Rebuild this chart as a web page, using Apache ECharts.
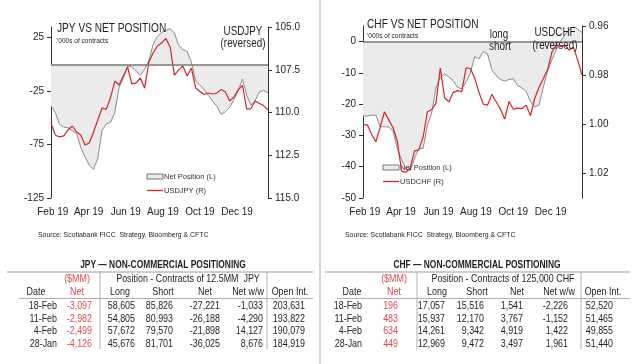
<!DOCTYPE html>
<html><head><meta charset="utf-8">
<script src="https://cdn.jsdelivr.net/npm/echarts@6/dist/echarts.min.js"></script>
<style>html,body{margin:0;padding:0;background:#fff;}#c{width:639px;height:364px;}</style>
</head><body><div id="c"></div>
<script>
// ---------- DATA ----------
const weeks = ['2019-01-29','2019-02-05','2019-02-12','2019-02-19','2019-02-26','2019-03-05','2019-03-12','2019-03-19','2019-03-26',
 '2019-04-02','2019-04-09','2019-04-16','2019-04-23','2019-04-30','2019-05-07','2019-05-14','2019-05-21','2019-05-28',
 '2019-06-04','2019-06-11','2019-06-18','2019-06-25','2019-07-02','2019-07-09','2019-07-16','2019-07-23','2019-07-30',
 '2019-08-06','2019-08-13','2019-08-20','2019-08-27','2019-09-03','2019-09-10','2019-09-17','2019-09-24',
 '2019-10-01','2019-10-08','2019-10-15','2019-10-22','2019-10-29','2019-11-05','2019-11-12','2019-11-19','2019-11-26',
 '2019-12-03','2019-12-10','2019-12-17','2019-12-24','2019-12-31','2020-01-07','2020-01-14','2020-01-21'];
const jpyNetPos = [-38.8,-44.9,-56.1,-58.7,-59.2,-62.0,-64.5,-77.6,-86.6,-94.4,-98.1,-87.9,-61.7,-55.6,-54.2,-44.9,-21.5,-13.1,
 -1.9,-2.3,-6.5,-9.8,-4.7,3.7,18.7,26.2,29.9,31.8,33.4,29.4,17.8,14.0,12.1,1.9,-15.4,-19.6,-23.4,-29.0,-34.6,-39.3,
 -46.7,-44.4,-40.2,-32.7,-24.8,-13.6,-29.0,-38.3,-33.6,-25.7,-24.3,-26.7];
const usdJpy = [110.61,111.32,111.43,111.37,111.02,110.79,111.14,111.32,111.90,111.78,111.14,110.44,109.74,109.80,109.12,108.16,
 108.39,107.87,107.34,108.33,108.27,107.98,108.57,107.05,106.52,106.11,105.94,105.67,106.17,107.81,107.51,107.28,107.87,107.40,
 108.57,108.77,108.95,108.86,108.92,108.86,108.65,108.80,109.33,109.09,108.68,108.42,109.80,109.77,109.33,109.47,109.61,109.85];
const chfNetPos = [-23.8,-23.8,-23.5,-23.5,-27.2,-27.2,-27.3,-28.6,-34.4,-37.8,-40.8,-41.2,-37.3,-34.2,-34.1,-26.7,-22.8,-14.8,
 -11.3,-10.3,-11.3,-12.5,-14.6,-15.1,-12.9,-10.0,-4.8,-5.5,-3.2,-3.9,-9.0,-10.9,-12.1,-12.6,-12.1,-11.9,-14.0,-14.8,-15.9,
 -19.1,-20.9,-20.3,-14.5,-9.3,-5.8,-2.7,0.2,2.1,3.9,4.8,4.0,2.9];
const usdChf = [1.0002,1.0002,1.0041,1.0071,1.0012,0.9949,0.9982,1.0014,1.0069,1.0192,1.0195,1.0178,1.0108,1.0104,1.0052,0.9949,
 0.9941,0.9914,0.9771,0.9892,0.9909,0.9871,0.9863,0.9867,0.9770,0.9773,0.9812,0.9869,0.9918,0.9922,0.9878,0.9908,0.9938,
 0.9979,0.9907,0.9939,0.9934,0.9936,0.9922,0.9965,0.9894,0.9849,0.9814,0.9777,0.9706,0.9678,0.9684,0.9678,0.9698,0.9686,0.9739,0.9800];
const monthTicks = ['2019-02-01','2019-04-01','2019-06-01','2019-08-01','2019-10-01','2019-12-01'];
const monthTickLabels = ['Feb 19','Apr 19','Jun 19','Aug 19','Oct 19','Dec 19'];
const jpyLeftTicks = [-125,-75,-25,25];
const jpyRightTicks = [105,107.5,110,112.5,115];
const chfLeftTicks = [-50,-40,-30,-20,-10,0];
const chfRightTicks = [0.96,0.98,1.00,1.02];

// tables
const tblDates = ['18-Feb','11-Feb','4-Feb','28-Jan'];
const jpyNetMM = [-3097,-2982,-2499,-4126];
const jpyLong = [58605,54805,57672,45676];
const jpyShort = [85826,80993,79570,81701];
const jpyNet = [-27221,-26188,-21898,-36025];
const jpyNetWW = [-1033,-4290,14127,8676];
const jpyOpenInt = [203631,193822,190079,184919];
const chfNetMM = [196,483,634,449];
const chfLong = [17057,15937,14261,12969];
const chfShort = [15516,12170,9342,9472];
const chfNet = [1541,3767,4919,3497];
const chfNetWW = [-2226,-1152,1422,1961];
const chfOpenInt = [52520,51465,49855,51440];
const colHeaders = ['Date','Net','Long','Short','Net','Net w/w','Open Int.'];

// ---------- STYLE ----------
const FF = "'Liberation Sans',Arial,sans-serif";
const RED = '#d8232a';
const PINK = '#e0484e';
const GRAYLINE = '#8a8a8a';
const FILL = '#ebebeb';
const TXT = '#1e1e1e';

const P = s => { const a = s.split('-').map(Number); return Date.UTC(a[0], a[1]-1, a[2]); };
const weekTs = weeks.map(P);
const tickTs = monthTicks.map(P);
const xLabel = v => { const i = tickTs.indexOf(v); return i >= 0 ? monthTickLabels[i] : ''; };

function xAxis(gi){
  return {type:'value', gridIndex:gi, min:weekTs[0], max:weekTs[weekTs.length-1],
    axisLine:{show:false}, axisTick:{show:false}, splitLine:{show:false},
    axisLabel:{customValues:tickTs, formatter:xLabel, fontSize:10, fontFamily:FF, color:TXT, margin:9}};
}
function yAxis(gi, pos, min, max, ticks, inv, fmt){
  return {type:'value', gridIndex:gi, position:pos, min:min, max:max, inverse:!!inv,
    axisLine:{show:true, lineStyle:{color:'#333', width:1}},
    axisTick:{show:true, customValues:ticks, length:4, lineStyle:{color:'#333'}},
    splitLine:{show:false},
    axisLabel:{customValues:ticks, formatter:fmt, fontSize:10, fontFamily:FF, color:TXT, margin:7}};
}
function netSeries(xi, yi){
  return {type:'line', xAxisIndex:xi, yAxisIndex:yi, showSymbol:false, symbol:'none',
    lineStyle:{color:GRAYLINE, width:1}, areaStyle:{color:FILL, opacity:1}, z:2,
    markLine:{silent:true, symbol:['none','none'], label:{show:false},
      lineStyle:{color:'#777', width:1.5, type:'solid'}, data:[{yAxis:0}]}};
}
function pxSeries(xi, yi){
  return {type:'line', xAxisIndex:xi, yAxisIndex:yi, showSymbol:false, symbol:'none',
    lineStyle:{color:RED, width:1.2}, z:4};
}

// ---------- GRAPHIC TEXT ----------
const G = [];
function T(text, x, y, size, opts){
  opts = opts || {};
  G.push({type:'text', x:x, y:y, scaleX:opts.sx||0.82, silent:true, z:100,
    style:{text:text, font:(opts.bold?'bold ':'') + size + 'px ' + FF, fill:opts.color||TXT,
      align:opts.align||'left', verticalAlign:'middle'}});
}
function L(x1,y1,x2,y2,c,w){
  G.push({type:'line', silent:true, z:100, shape:{x1:x1,y1:y1,x2:x2,y2:y2}, style:{stroke:c||'#a0a0a0', lineWidth:w||1}});
}
G.push({type:'rect', silent:true, shape:{x:319, y:0, width:2, height:364}, style:{fill:'#d6d6d6'}});

T('JPY VS NET POSITION', 57, 29, 12, {sx:0.845});
T("'000s of contracts", 57, 40.5, 8);
T('USDJPY', 243, 32, 12, {align:'center'});
T('(reversed)', 243, 44, 12, {align:'center'});
T('CHF VS NET POSITION', 367, 25, 12, {sx:0.845});
T("'000s of contracts", 367, 35.5, 8);
T('long', 499, 35, 12, {align:'center'});
T('short', 500, 47, 12, {align:'center'});
T('USDCHF', 555, 33, 12, {align:'center'});
T('(reversed)', 555, 46, 12, {align:'center'});
T('Source: Scotiabank FICC  Strategy, Bloomberg & CFTC', 38, 235, 8, {sx:0.86});
T('Source: Scotiabank FICC  Strategy, Bloomberg & CFTC', 345, 235, 8, {sx:0.86});

const fmt = n => n.toLocaleString('en-US');
function table(cfg){
  T(cfg.title, cfg.titleX, 265.5, 10.5, {bold:true, align:'center', sx:0.8});
  L(cfg.x1, 272, cfg.x2, 272, '#9a9a9a', 1);
  L(cfg.x1 + 12, 298.5, cfg.x2, 298.5, '#b0b0b0', 1);
  L(cfg.v1, 272, cfg.v1, 349, '#b0b0b0', 1);
  L(cfg.v2, 272, cfg.v2, 349, '#b0b0b0', 1);
  T('($MM)', cfg.hx[1], 278.5, 11, {align:'center', color:PINK, sx:0.81});
  T(cfg.posHeader, cfg.posX, 278.5, 11, {align:'center', sx:0.81});
  colHeaders.forEach((h,i)=>T(h, cfg.hx[i], 292, 11, {align:'center', color: i===1?PINK:TXT, sx:0.81}));
  const rowsY = [306, 318.5, 331, 343.5];
  const cols = [tblDates, cfg.netMM.map(fmt), cfg.long.map(fmt), cfg.short.map(fmt), cfg.net.map(fmt), cfg.netWW.map(fmt), cfg.oi.map(fmt)];
  rowsY.forEach((y,r)=>cols.forEach((c,i)=>T(c[r], cfg.rx[i], y, 11, {align:'right', color:i===1?PINK:TXT, sx:0.81})));
}
table({title:'JPY \u2014 NON-COMMERCIAL POSITIONING', titleX:163, x1:7, x2:313, v1:100, v2:267,
  posHeader:'Position - Contracts of 12.5MM  JPY', posX:188,
  hx:[36,77,120,163,205,248,290], rx:[57,92,135,173,220,263,305],
  netMM:jpyNetMM, long:jpyLong, short:jpyShort, net:jpyNet, netWW:jpyNetWW, oi:jpyOpenInt});
table({title:'CHF \u2014 NON-COMMERCIAL POSITIONING', titleX:477, x1:325, x2:630, v1:417, v2:581,
  posHeader:'Position - Contracts of 125,000 CHF', posX:503,
  hx:[352,394,437,477,517,559,603], rx:[362,398,445,484,523,568,613],
  netMM:chfNetMM, long:chfLong, short:chfShort, net:chfNet, netWW:chfNetWW, oi:chfOpenInt});

// ---------- CHART ----------
const chart = echarts.init(document.getElementById('c'), null, {renderer:'canvas'});
const s0 = netSeries(0,0); s0.name='Net Position (L)'; s0.data = weekTs.map((d,i)=>[d, jpyNetPos[i]]);
const s1 = pxSeries(0,1); s1.name='USDJPY (R)'; s1.data = weekTs.map((d,i)=>[d, usdJpy[i]]);
const s2 = netSeries(1,2); s2.name='Net Position (L)'; s2.data = weekTs.map((d,i)=>[d, chfNetPos[i]]);
const s3 = pxSeries(1,3); s3.name='USDCHF (R)'; s3.data = weekTs.map((d,i)=>[d, usdChf[i]]);

const lineIcon = 'path://M0,0L20,0L20,1.6L0,1.6Z';
function legend(left, top, pxName){
  return {left:left, top:top, orient:'vertical', itemWidth:16, itemHeight:5, itemGap:4, padding:0,
    selectedMode:false, textStyle:{fontSize:7.5, fontFamily:FF, color:'#333', lineHeight:10, padding:[0,0,0,-4]},
    data:[{name:'Net Position (L)', icon:'rect', itemStyle:{color:FILL, borderColor:'#777', borderWidth:1}},
          {name:pxName, icon:lineIcon, itemStyle:{color:RED}}]};
}

chart.setOption({
  animation:false,
  backgroundColor:'#fff',
  grid:[{left:51, top:27, width:217, height:171}, {left:363, top:26, width:219, height:172}],
  xAxis:[xAxis(0), xAxis(1)],
  yAxis:[
    yAxis(0,'left',-125,35,jpyLeftTicks,false, v=>String(v)),
    yAxis(0,'right',105,115,jpyRightTicks,true, v=>v.toFixed(1)),
    yAxis(1,'left',-50,5,chfLeftTicks,false, v=>String(v)),
    yAxis(1,'right',0.96,1.03,chfRightTicks,true, v=>v.toFixed(2))
  ],
  legend:[legend(146.5,171.5,'USDJPY (R)'), legend(382.5,162.5,'USDCHF (R)')],
  series:[s0,s1,s2,s3],
  graphic:G
});
</script></body></html>
